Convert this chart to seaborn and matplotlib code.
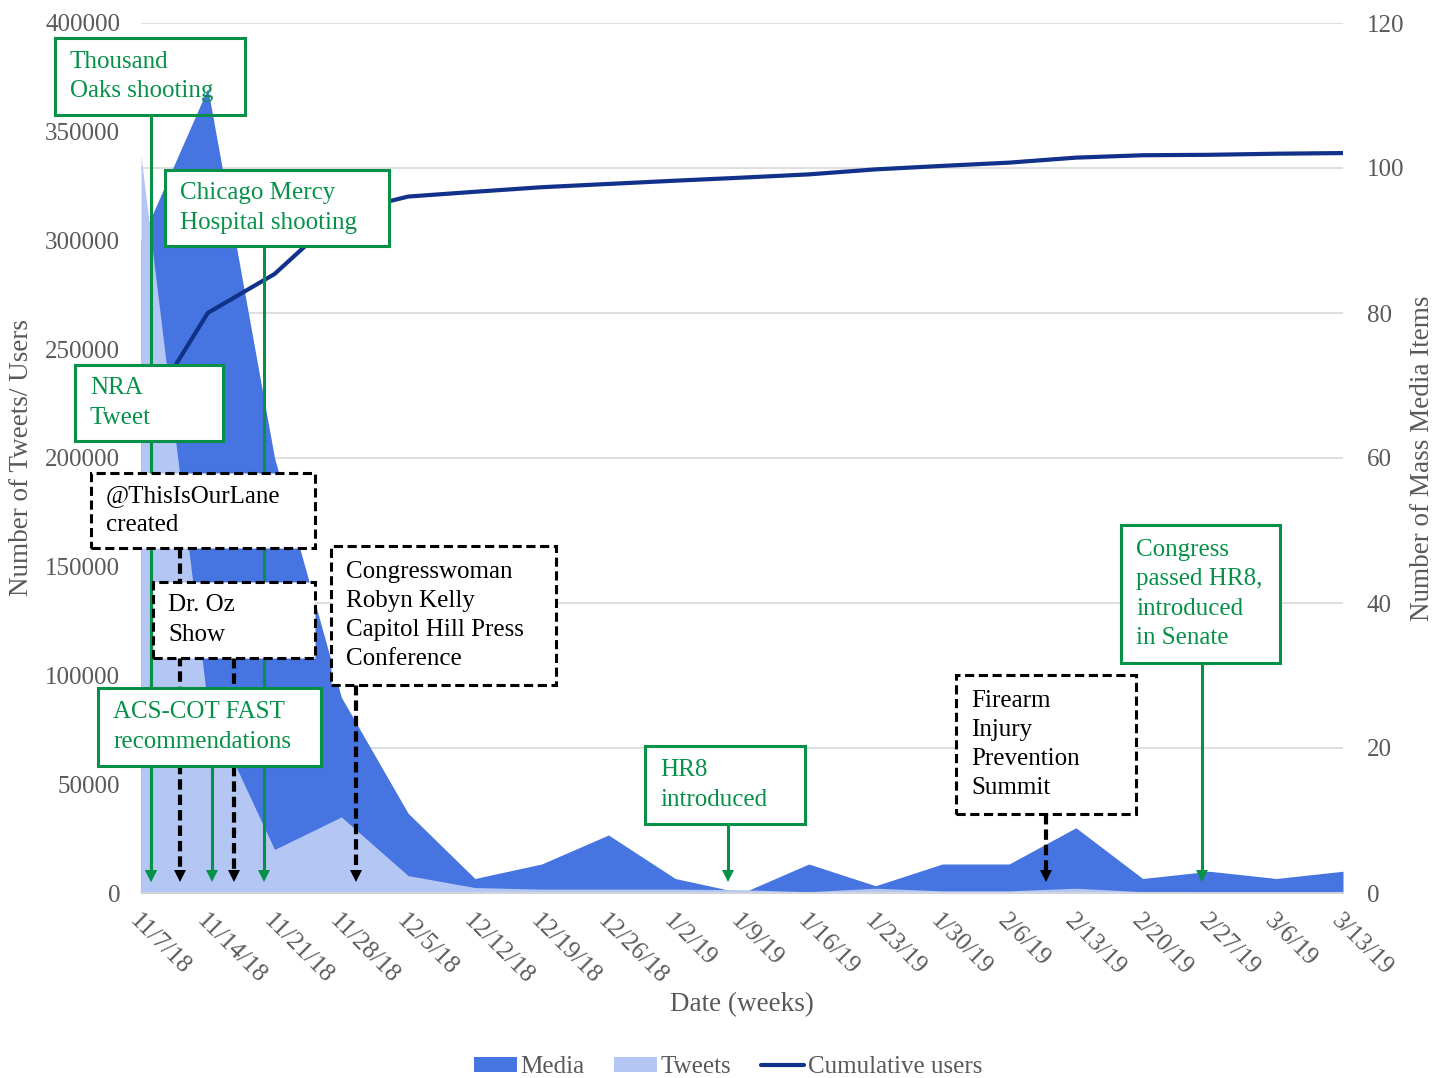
import pandas as pd
import matplotlib.pyplot as plt
import matplotlib.dates as mdates
import seaborn as sns
from matplotlib.patches import Rectangle, Patch
from matplotlib.lines import Line2D
from matplotlib.transforms import Affine2D, blended_transform_factory

# ----------------------------
# Weekly data
# ----------------------------
week_labels = ["11/7/18", "11/14/18", "11/21/18", "11/28/18", "12/5/18", "12/12/18",
               "12/19/18", "12/26/18", "1/2/19", "1/9/19", "1/16/19", "1/23/19",
               "1/30/19", "2/6/19", "2/13/19", "2/20/19", "2/27/19", "3/6/19", "3/13/19"]

# mass media items (right axis)
media_items = [90, 111, 60, 27, 11, 2, 4, 8, 2, 0, 4, 1, 4, 4, 9, 2, 3, 2, 3]

# tweets per week (left axis)
tweets = [339000, 86000, 20000, 35000, 8000, 2500, 1800, 1800, 1800, 1500,
          600, 2200, 1000, 1000, 2200, 600, 500, 500, 500]

# cumulative users (left axis)
cumulative_users = [217000, 266700, 284600, 312600, 320200, 322400, 324500, 326000,
                    327500, 328900, 330400, 332700, 334300, 335800, 338100, 339200,
                    339400, 339900, 340200]

df = pd.DataFrame({
    "date": pd.to_datetime(week_labels, format="%m/%d/%y"),
    "media": media_items,
    "tweets": tweets,
    "cumulative": cumulative_users,
})

# events: label, date, style, box (left, top, right, bottom) in figure pixels
events = [
    ("Thousand\nOaks shooting", "2018-11-08 01:00", "green", (55, 38, 245, 115)),
    ("NRA\nTweet", "2018-11-08 01:00", "green", (75, 365, 223, 441)),
    ("@ThisIsOurLane\ncreated", "2018-11-11 02:00", "black", (91, 473, 315, 548)),
    ("Dr. Oz\nShow", "2018-11-16 18:00", "black", (153, 582, 315, 658)),
    ("ACS-COT FAST\nrecommendations", "2018-11-14 10:30", "green", (98, 688, 321, 766)),
    ("Chicago Mercy\nHospital shooting", "2018-11-19 21:00", "green", (165, 170, 389, 246)),
    ("Congresswoman\nRobyn Kelly\nCapitol Hill Press\nConference", "2018-11-29 14:00",
     "black", (331, 546, 556, 685)),
    ("HR8\nintroduced", "2019-01-07 12:00", "green", (645, 746, 805, 824)),
    ("Firearm\nInjury\nPrevention\nSummit", "2019-02-09 21:00", "black", (956, 675, 1136, 814)),
    ("Congress\npassed HR8,\nintroduced\nin Senate", "2019-02-26 05:00", "green",
     (1121, 525, 1280, 663)),
]

MEDIA = "#4674E0"
TWEETS = "#B4C6F3"
LINE = "#11318A"
GREEN = "#079148"
GRAY = "#595959"

sns.set_theme(style="white")
plt.rcParams["font.family"] = ["Liberation Serif", "DejaVu Serif"]

W, H = 1449, 1078
fig = plt.figure(figsize=(W / 100, H / 100), dpi=100)
ax = fig.add_axes([141 / W, 1 - 893 / H, 1202 / W, 870 / H])
ax2 = ax.twinx()
ax.set_zorder(ax2.get_zorder() + 1)
ax.patch.set_visible(False)

# pixel transform (top-left origin) for the annotation boxes
pix = Affine2D().scale(1 / W, -1 / H).translate(0, 1) + fig.transFigure
xpix = blended_transform_factory(ax.transData, pix)

# Media area on secondary axis
ax2.fill_between(df["date"], df["media"], color=MEDIA, lw=0, zorder=2)
ax2.set_ylim(0, 120)
ax2.set_yticks(range(0, 121, 20))
ax2.yaxis.grid(True, color="#D9D9D9", lw=1.2)
ax2.set_axisbelow(True)

# Tweets area + cumulative users line on primary axis
ax.fill_between(df["date"], df["tweets"], color=TWEETS, lw=0, zorder=1)
sns.lineplot(data=df, x="date", y="cumulative", ax=ax, color=LINE, lw=3,
             zorder=2, legend=False)

ax.set_xlim(df["date"].iloc[0], df["date"].iloc[-1])
ax.set_ylim(0, 400000)
ax.set_yticks(range(0, 400001, 50000))
ax.set_yticklabels([str(v) for v in range(0, 400001, 50000)])
ax.set_xticks(df["date"])
ax.set_xticklabels(week_labels, rotation=-45, ha="left", va="top",
                   rotation_mode="anchor")

for a in (ax, ax2):
    for s in a.spines.values():
        s.set_visible(False)
ax.spines["bottom"].set_visible(True)
ax.spines["bottom"].set_color("#D9D9D9")
ax.spines["bottom"].set_linewidth(1.2)

ax.tick_params(axis="x", length=6, width=1.2, color="#D9D9D9", pad=6,
               labelsize=18, labelcolor=GRAY)
ax.tick_params(axis="y", length=0, pad=15, labelsize=18, labelcolor=GRAY)
ax2.tick_params(axis="y", length=0, pad=17, labelsize=18, labelcolor=GRAY)
ax2.tick_params(axis="x", length=0)

ax.set_xlabel("Date (weeks)", fontsize=19.5, color=GRAY)
ax.xaxis.set_label_coords(0.5, (893 - 992) / 870)
ax.set_ylabel("Number of Tweets/ Users", fontsize=19.5, color=GRAY)
ax.yaxis.set_label_coords((34 - 141) / 1202, 0.5)
ax2.set_ylabel("Number of Mass Media Items", fontsize=19.5, color=GRAY)
ax2.yaxis.set_label_coords((1410 - 141) / 1202, 0.5)

# Event annotations
tip_y = 882
head = 9
for label, when, style, (x0, y0, x1, y1) in events:
    col = GREEN if style == "green" else "black"
    xd = mdates.date2num(pd.Timestamp(when))
    if style == "green":
        ls, lw = "-", 2.2
    else:
        ls, lw = (0, (2.5, 1.2)), 3
    ax.plot([xd, xd], [y1, tip_y - 8], transform=xpix, color=col, lw=lw,
            ls=ls, solid_capstyle="butt", zorder=3, clip_on=False)
    ax.plot([xd], [tip_y - 6.3], transform=xpix, marker="v", ms=head,
            color=col, mew=0, zorder=3, clip_on=False)
    face = "none" if label.startswith("Thousand") else "white"
    box_ls = "-" if style == "green" else (0, (3, 1.5))
    ax.add_patch(Rectangle((x0, y1), x1 - x0, y0 - y1, transform=pix,
                           facecolor=face, edgecolor=col, lw=2.2, ls=box_ls,
                           joinstyle="miter", zorder=5, clip_on=False))
    ax.text(x0 + 15, (y0 + y1) / 2, label, transform=pix, ha="left",
            va="center", fontsize=18, color=col, linespacing=1.42, zorder=6)

# Legend
handles = [Patch(facecolor=MEDIA, edgecolor="none"),
           Patch(facecolor=TWEETS, edgecolor="none"),
           Line2D([0], [0], color=LINE, lw=3)]
fig.legend(handles, ["Media", "Tweets", "Cumulative users"], loc="center",
           bbox_to_anchor=(728 / W, 1 - 1067 / H), ncol=3, frameon=False,
           fontsize=18, handlelength=1.7, handleheight=0.55, handletextpad=0.15,
           columnspacing=1.2, labelcolor=GRAY)

fig.savefig("out.png", dpi=100)
